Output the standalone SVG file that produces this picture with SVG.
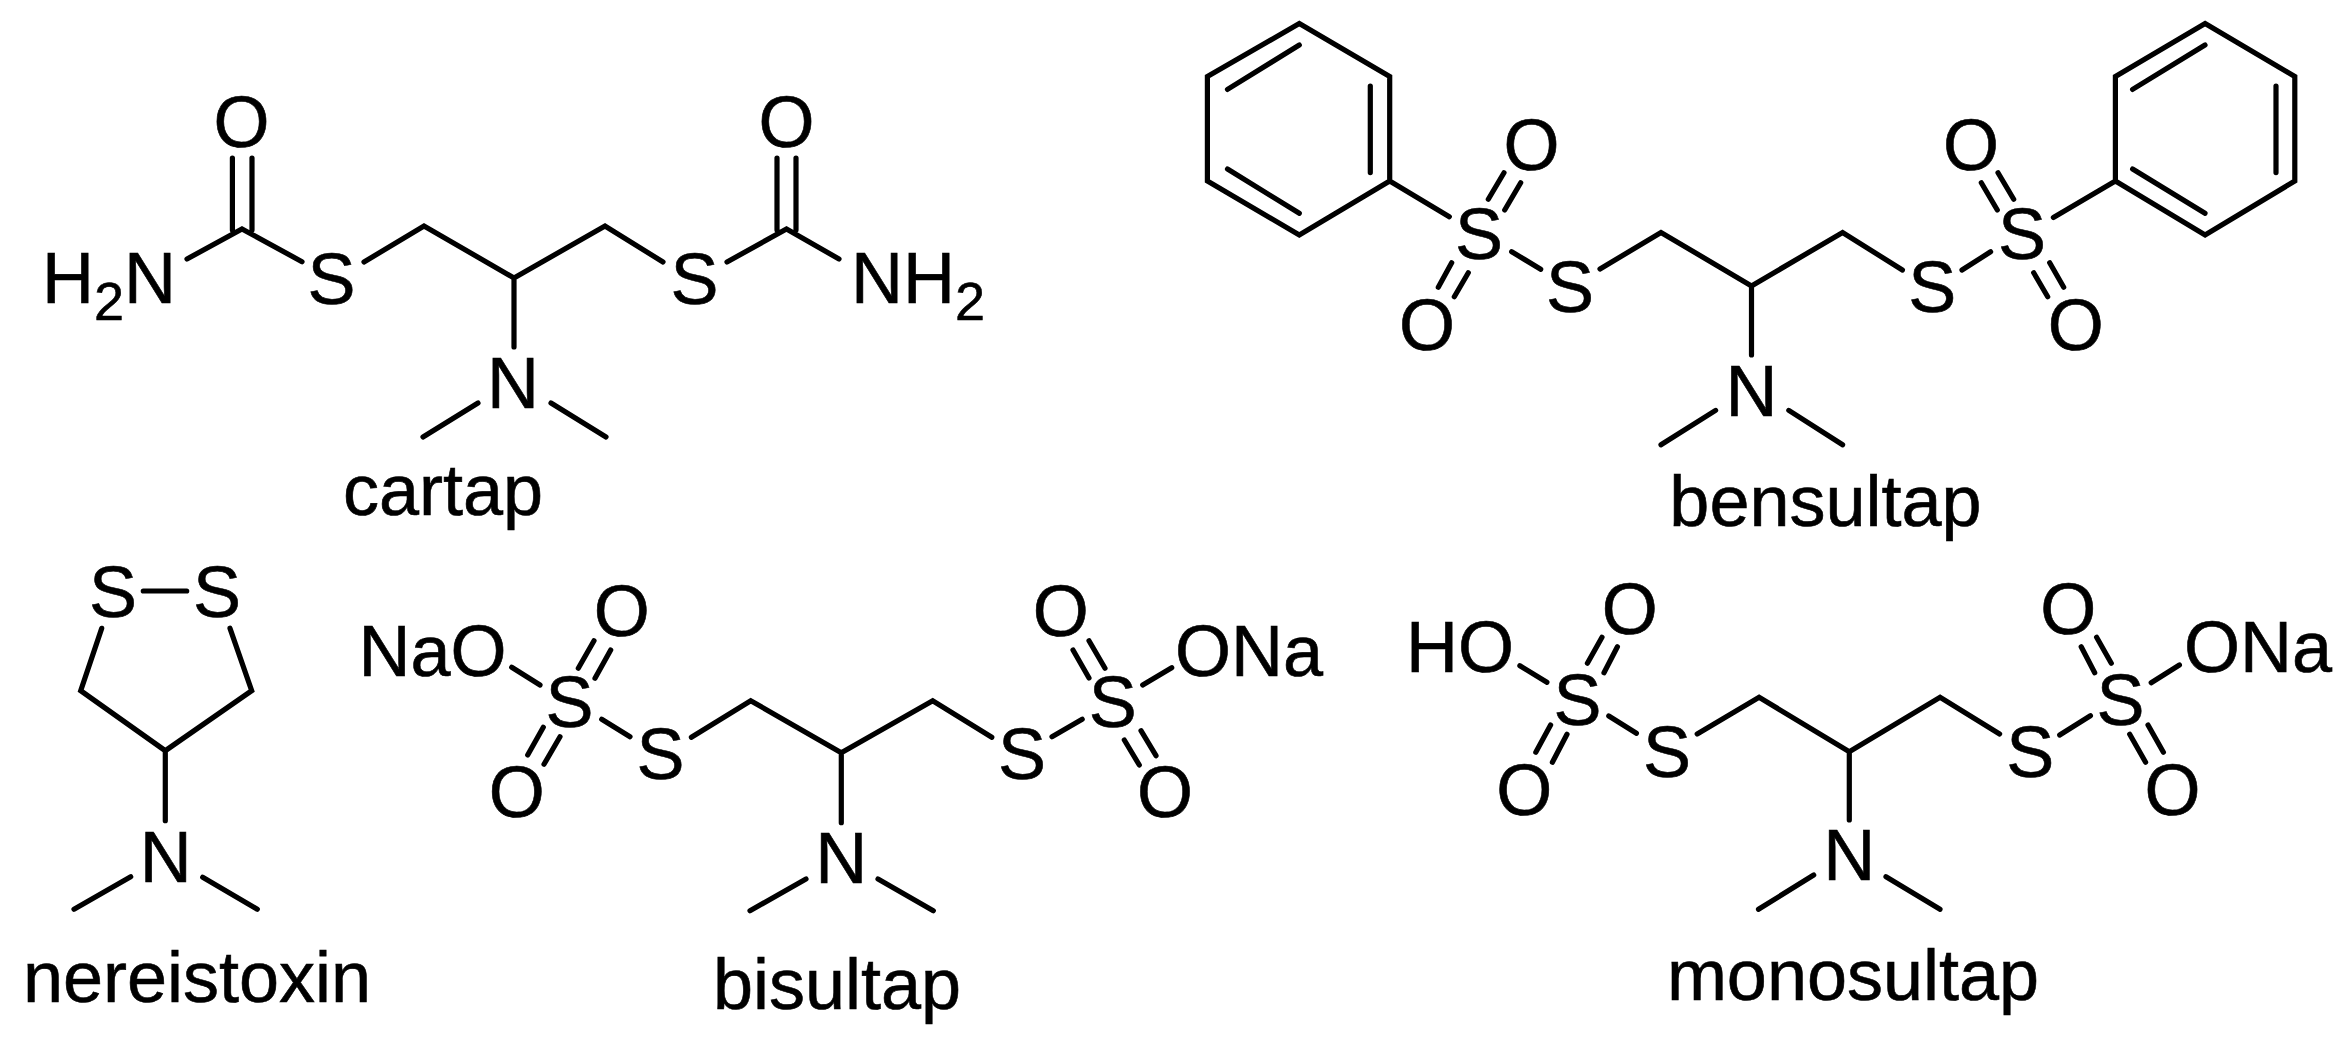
<svg xmlns="http://www.w3.org/2000/svg" width="2342" height="1041" viewBox="0 0 2342 1041">
<style>
.b{fill:none;stroke:#000;stroke-width:5.2;stroke-linejoin:miter;stroke-miterlimit:10;stroke-linecap:round}
text{font-family:"Liberation Sans",Arial,sans-serif;font-size:72px;fill:#000;stroke:#000;stroke-width:.6}
.m{text-anchor:middle}
.sub{font-size:54px}
</style>
<rect width="2342" height="1041" fill="#fff"/>
<g id="connectors">
<path id="bonds-cartap" class="b" d="M187 259L242 229L302 261.7M232.4 158V230M252 158V230M364 262L424 226L514 278L605 226L663 262M514 278V347M478 403L423 437M551 403L606 437M727 262L786.5 229L839 259M777 158V230M796 158V230"/>
<path id="bonds-bensultap" class="b" d="M1299.3 23.5L1389.7 76.5V181L1299.3 235L1207.4 181V76.5ZM1299.3 45L1227.5 89.4M1370.3 86V172.6M1227.5 169L1299.3 213.3M1389.7 181L1449.3 216.7M1504 172.7L1488.3 199.3M1520.7 182.7L1504.7 210M1451.7 262.7L1438.3 287.3M1468.3 272.7L1454.3 296.7M1511.7 251.7L1540.7 269.3M1600 269L1661 232.5L1751.5 285.9L1842.6 232.5L1902.4 270M1751.5 285.9V355M1715.6 410.4L1661 444.8M1788.8 410.4L1842.6 444.8M1962 270L1990.6 251.8M1998 172.7L2013.7 199.3M1981.3 182.7L1997.3 210M2049.7 262.7L2063.7 287.3M2033.7 272.7L2047.7 296.7M2053.4 217.5L2115.4 181M2205.1 23.5L2294.8 76.5V181L2205.1 235L2115.4 181V76.5ZM2205 45L2132.6 89.4M2276 86V172.6M2132.6 169L2205 213.3"/>
<path id="bonds-nereistoxin" class="b" d="M143.3 591H186.7M101.7 628.3L80.7 690.7L165.3 750.7L251.7 690.7L230 628.3M165.3 750.7V820.7M130.7 876.7L74 909.3M202.7 877.3L257.3 909.3"/>
<path id="bonds-bisultap" class="b" d="M511.7 667.3L540 685M594 640.7L578.3 668.3M610.7 650L595 678.3M543.3 727.3L527.7 755M560 736.7L544 764.3M601.7 719.3L630 736.7M691.4 737.3L750.7 700.7L841.3 752.7L932.7 700.7L991.8 737.3M841.3 752.7V822.7M806 879L750 910.7M878 879L933.3 910.7M1052 736.7L1082.2 719.3M1089 640.7L1105 668.3M1073 650L1089 678M1142.7 685L1171.7 667.7M1124.3 740L1139.3 765M1141 730.7L1156 755.7"/>
<path id="bonds-monosultap" class="b" d="M1519.9 665.7L1546.9 682.3M1602 637.3L1587.4 663.3M1617.4 646.7L1604 672.7M1550.6 725L1535.8 752.3M1567 734.3L1552.4 762.3M1608.8 716L1636.4 733.3M1697.2 734L1759.1 697.3L1849.3 751.7L1940.1 697.3L1999.6 734M1849.3 751.7V820M1813.7 875L1758.5 909.3M1886 876.7L1940 909.3M2059.7 735L2090.4 715.7M2081.2 646.7L2094.7 672.7M2096.6 637.3L2111.3 663.3M2151.2 682.7L2179.4 665M2129.7 734.3L2145.6 762.3M2148 725L2163.4 752.3"/>
</g>
<g id="cartap">
<text x="42" y="303.3">H<tspan class="sub" dy="17">2</tspan><tspan dy="-17">N</tspan></text>
<text class="m" x="241.5" y="147">O</text>
<text class="m" x="786.5" y="147">O</text>
<text class="m" x="331.5" y="304">S</text>
<text class="m" x="694.6" y="304">S</text>
<text x="851" y="303.3">NH<tspan class="sub" dy="17">2</tspan></text>
<text class="m" x="513" y="408">N</text>
<text class="m" x="443" y="515">cartap</text>
</g>
<g id="bensultap">
<text class="m" x="1479" y="259">S</text>
<text class="m" x="1531.5" y="169.5">O</text>
<text class="m" x="1427" y="349.5">O</text>
<text class="m" x="1570" y="312">S</text>
<text class="m" x="1751.5" y="415.6">N</text>
<text class="m" x="1932.3" y="312">S</text>
<text class="m" x="2022" y="259">S</text>
<text class="m" x="1971" y="169.5">O</text>
<text class="m" x="2075.8" y="349.5">O</text>
<text class="m" x="1825.5" y="526">bensultap</text>
</g>
<g id="nereistoxin">
<text class="m" x="113" y="617">S</text>
<text class="m" x="217" y="617">S</text>
<text class="m" x="165.8" y="881.7">N</text>
<text class="m" x="197" y="1002">nereistoxin</text>
</g>
<g id="bisultap">
<text x="358.5" y="675.7">NaO</text>
<text class="m" x="569.5" y="727">S</text>
<text class="m" x="621.7" y="636.3">O</text>
<text class="m" x="516.7" y="817">O</text>
<text class="m" x="660.4" y="779">S</text>
<text class="m" x="841.2" y="883.3">N</text>
<text class="m" x="1022" y="779">S</text>
<text class="m" x="1112.8" y="727">S</text>
<text class="m" x="1060.7" y="636.3">O</text>
<text class="m" x="1165" y="817">O</text>
<text x="1175" y="675.7">ONa</text>
<text class="m" x="837" y="1009">bisultap</text>
</g>
<g id="monosultap">
<text x="1406" y="672">HO</text>
<text class="m" x="1577.5" y="725">S</text>
<text class="m" x="1629.7" y="634">O</text>
<text class="m" x="1524.2" y="815">O</text>
<text class="m" x="1667" y="776.7">S</text>
<text class="m" x="1849.3" y="880">N</text>
<text class="m" x="2030.3" y="776.7">S</text>
<text class="m" x="2120.5" y="725">S</text>
<text class="m" x="2068.3" y="634">O</text>
<text class="m" x="2172.6" y="815">O</text>
<text x="2184" y="672">ONa</text>
<text class="m" x="1853" y="1000">monosultap</text>
</g>
</svg>
